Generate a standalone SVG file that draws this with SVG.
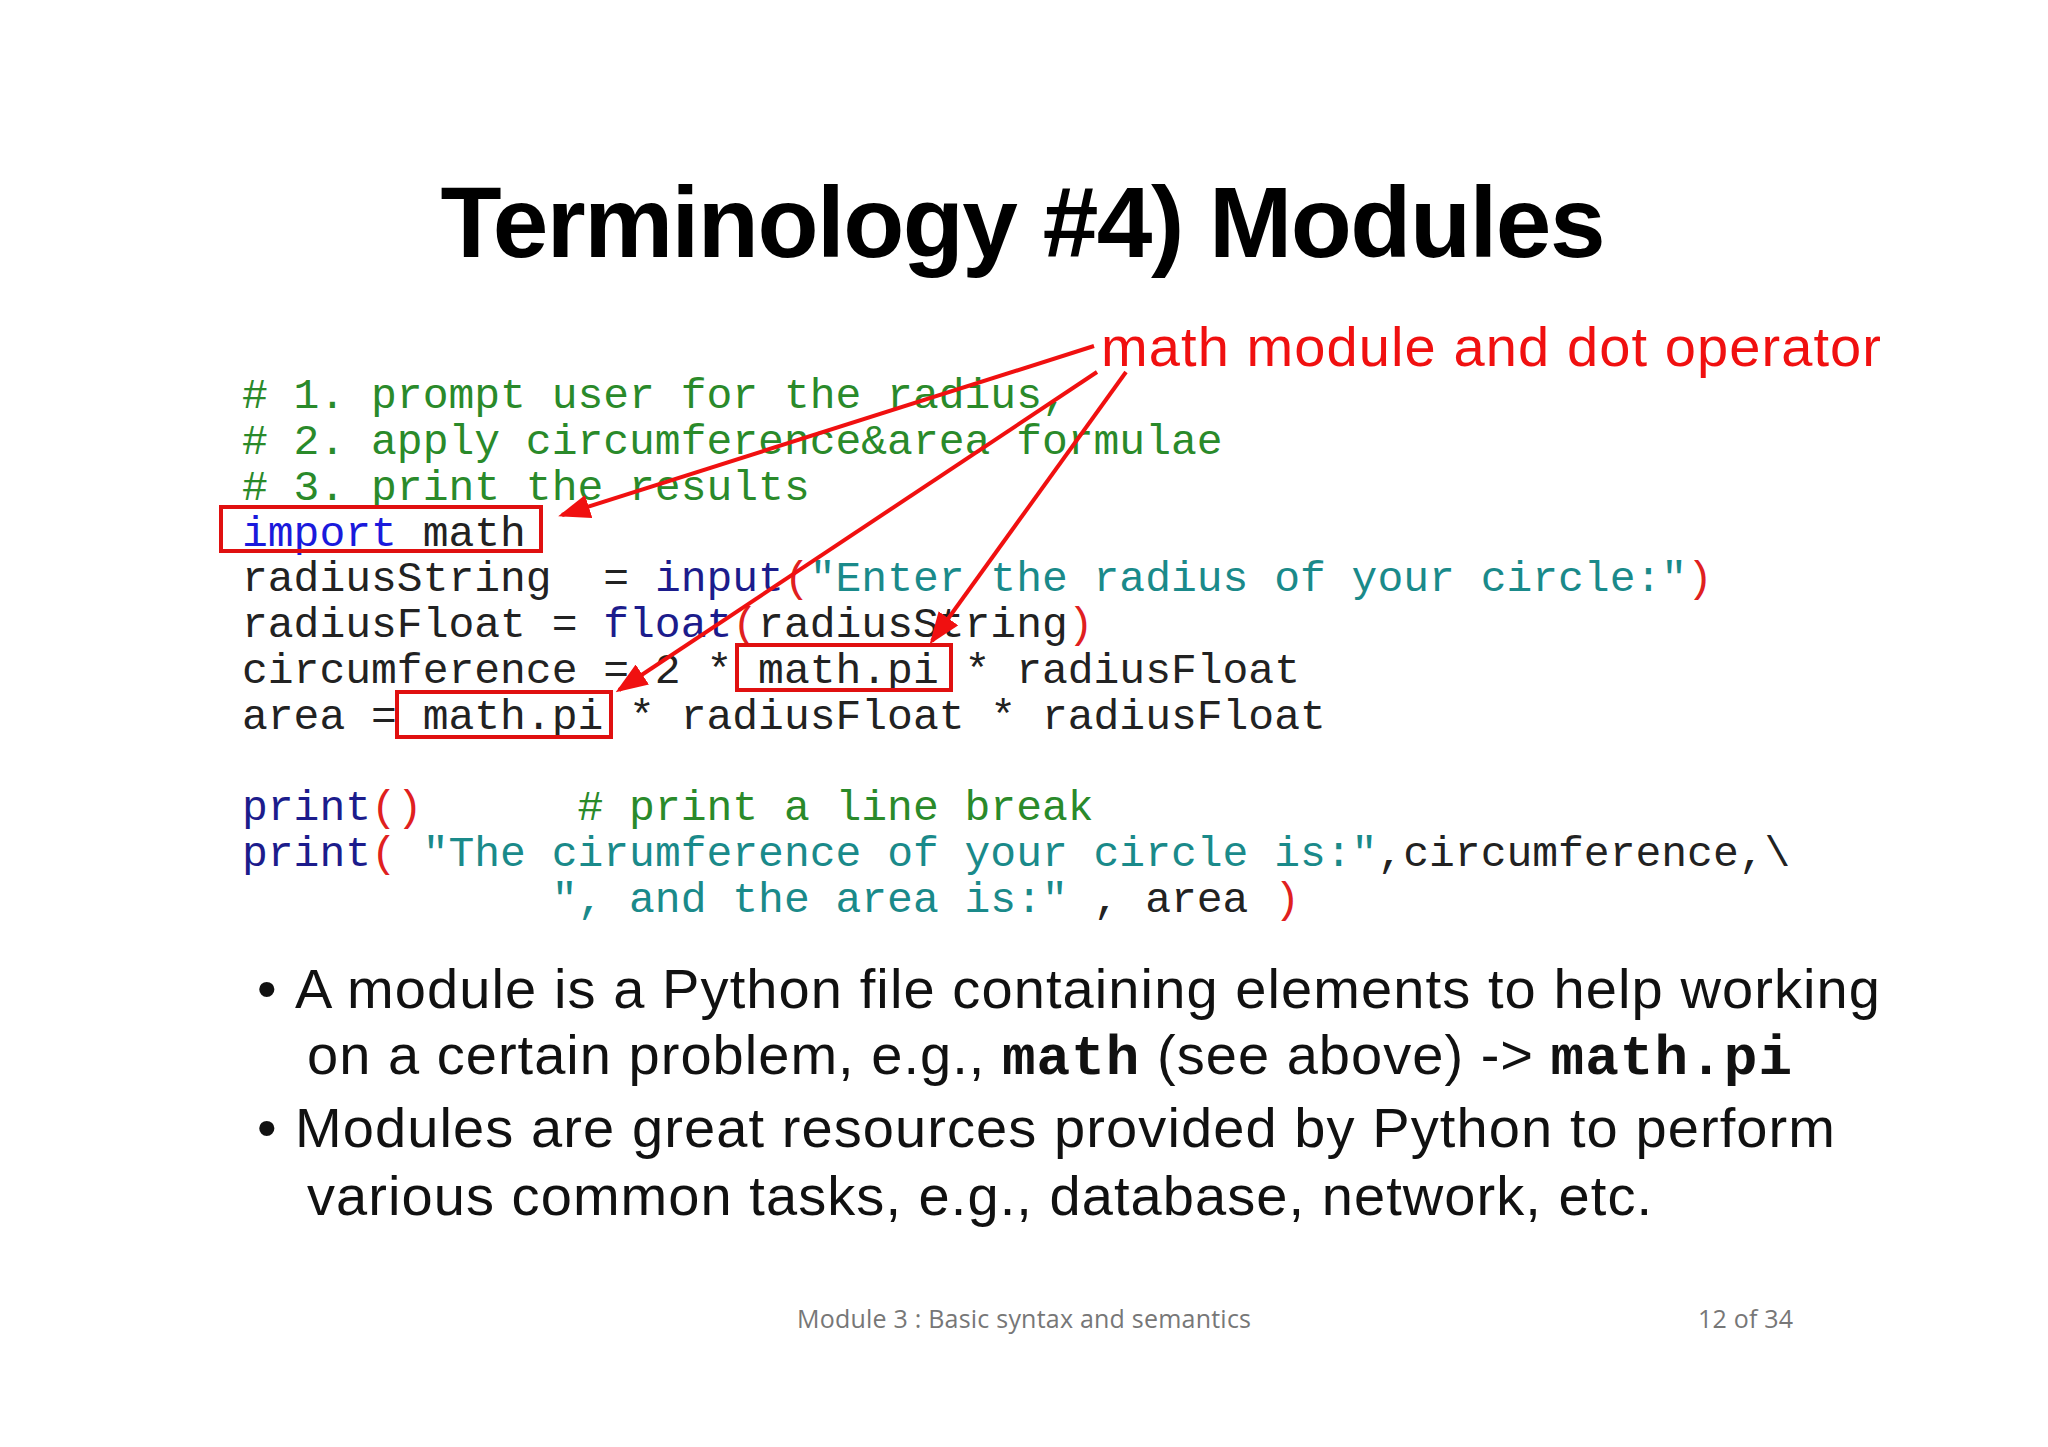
<svg xmlns="http://www.w3.org/2000/svg" width="2048" height="1447" viewBox="0 0 2048 1447">
<style>
.c{font-family:"Liberation Mono","Courier New",monospace;font-size:43px;fill:#222;white-space:pre}
.cm{fill:#2a8a2a}.kw{fill:#1a1adc}.bi{fill:#1c1c8c}.st{fill:#1a8a8a}.p{fill:#e02020}
.b{font-family:"Liberation Sans",Arial,sans-serif;font-size:56px;fill:#111;white-space:pre}
.bm{font-family:"Liberation Mono","Courier New",monospace;font-weight:bold}
.box{fill:none;stroke:#e01010;stroke-width:4}
.ar{stroke:#f01010;stroke-width:4;fill:none;marker-end:url(#ah)}
</style>
<defs><marker id="ah" markerWidth="8" markerHeight="6" refX="7" refY="3" orient="auto"><path d="M0,0L8,3L0,6z" fill="#f01010"/></marker></defs>
<rect width="2048" height="1447" fill="#fff"/>
<text id="title" x="1023" y="257" text-anchor="middle" font-family="Liberation Sans,Arial,sans-serif" font-weight="bold" font-size="100" textLength="1165" fill="#000">Terminology #4) Modules</text>
<g id="code">
<text class="c" x="242" y="408"><tspan class="cm"># 1. prompt user for the radius,</tspan></text>
<text class="c" x="242" y="454"><tspan class="cm"># 2. apply circumference&amp;area formulae</tspan></text>
<text class="c" x="242" y="500"><tspan class="cm"># 3. print the results</tspan></text>
<text class="c" x="242" y="546"><tspan class="kw">import</tspan> math</text>
<text class="c" x="242" y="591">radiusString  = <tspan class="bi">input</tspan><tspan class="p">(</tspan><tspan class="st">"Enter the radius of your circle:"</tspan><tspan class="p">)</tspan></text>
<text class="c" x="242" y="637">radiusFloat = <tspan class="bi">float</tspan><tspan class="p">(</tspan>radiusString<tspan class="p">)</tspan></text>
<text class="c" x="242" y="683">circumference = 2 * math.pi * radiusFloat</text>
<text class="c" x="242" y="729">area = math.pi * radiusFloat * radiusFloat</text>
<text class="c" x="242" y="820"><tspan class="bi">print</tspan><tspan class="p">()</tspan>      <tspan class="cm"># print a line break</tspan></text>
<text class="c" x="242" y="866"><tspan class="bi">print</tspan><tspan class="p">(</tspan> <tspan class="st">"The cirumference of your circle is:"</tspan>,circumference,\</text>
<text class="c" x="242" y="912">            <tspan class="st">", and the area is:"</tspan> , area <tspan class="p">)</tspan></text>
</g>
<g id="boxes">
<rect class="box" x="221" y="507" width="320" height="44"/>
<rect class="box" x="737" y="645" width="214" height="45"/>
<rect class="box" x="397" y="692" width="214" height="45"/>
</g>
<text id="label" x="1101" y="366" font-family="Liberation Sans,Arial,sans-serif" font-size="56" fill="#f01010" textLength="780">math module and dot operator</text>
<g id="connectors">
<line class="ar" x1="1094" y1="346" x2="562" y2="515"/>
<line class="ar" x1="1097" y1="372" x2="619" y2="690"/>
<line class="ar" x1="1126" y1="372" x2="932" y2="641"/>
</g>
<g id="bullets">
<text class="b" x="257" y="1008">• </text>
<text class="b" x="295" y="1008" textLength="1585">A module is a Python file containing elements to help working</text>
<text class="b" x="307" y="1074" textLength="1485">on a certain problem, e.g., <tspan class="bm">math</tspan> (see above) -&gt; <tspan class="bm">math.pi</tspan></text>
<text class="b" x="257" y="1147">• </text>
<text class="b" x="295" y="1147" textLength="1540">Modules are great resources provided by Python to perform</text>
<text class="b" x="307" y="1215" textLength="1345">various common tasks, e.g., database, network, etc.</text>
</g>
<text x="797" y="1328" font-family="Open Sans,Liberation Sans,sans-serif" font-size="25" fill="#777" textLength="454">Module 3 : Basic syntax and semantics</text>
<text x="1698" y="1328" font-family="Open Sans,Liberation Sans,sans-serif" font-size="25" fill="#777" textLength="95">12 of 34</text>
</svg>
